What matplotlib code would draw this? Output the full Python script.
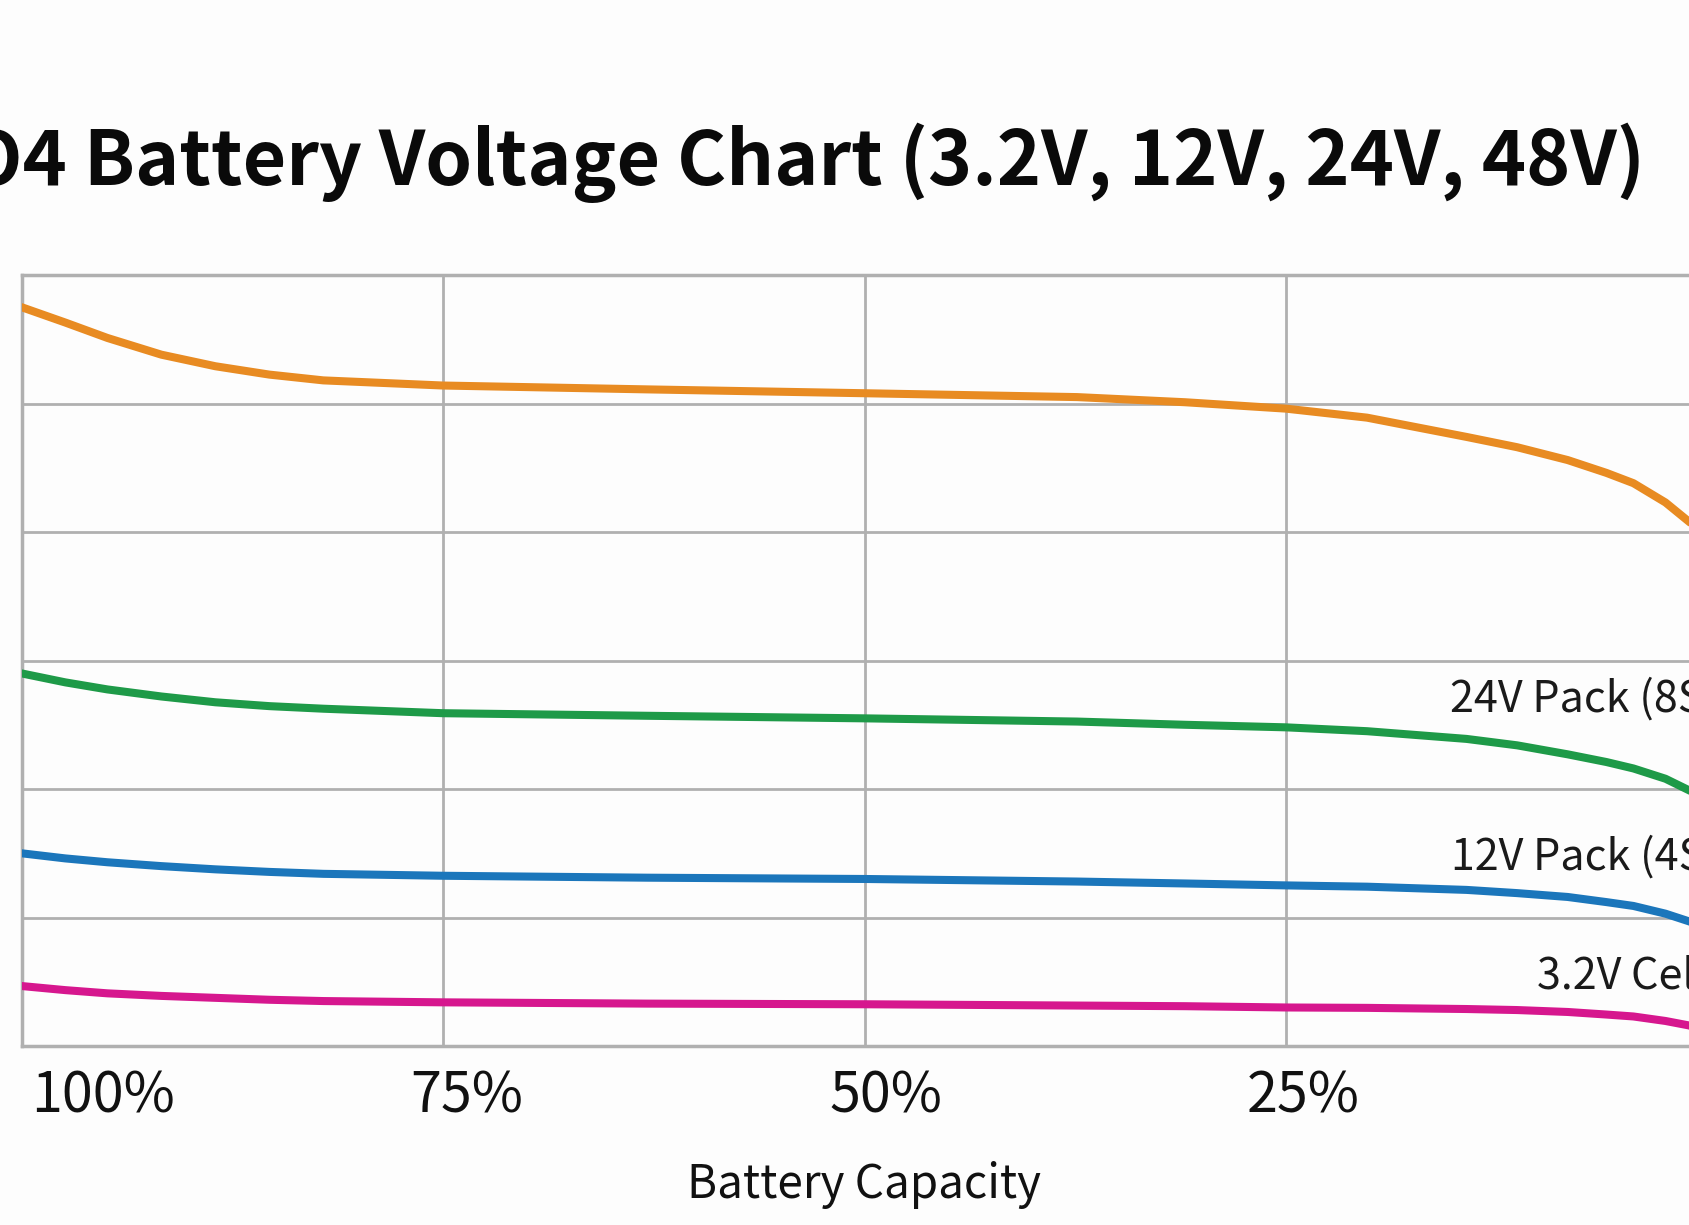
import numpy as np
import matplotlib.pyplot as plt
from matplotlib import transforms

plt.rcParams['font.family'] = ['Noto Sans CJK JP', 'DejaVu Sans']

# remaining capacity (%) at which the curves were read
cap_pct = [100, 97.4, 94.9, 91.7, 88.5, 85.3, 82.1, 75, 62.9, 50, 37.4, 31, 25,
           20.2, 14.3, 11.3, 8.3, 6.0, 4.4, 2.5, 1.1, 0]

# voltage of each pack
v_48 = [57.5, 56.3, 55.1, 53.8, 52.9, 52.25, 51.8, 51.4, 51.1, 50.8, 50.5, 50.1, 49.6,
        48.9, 47.4, 46.6, 45.6, 44.6, 43.8, 42.3, 40.8, 39.6]
v_24 = [29.0, 28.3, 27.75, 27.2, 26.75, 26.45, 26.25, 25.9, 25.7, 25.5, 25.25, 25.0, 24.8,
        24.5, 23.9, 23.4, 22.7, 22.1, 21.6, 20.8, 19.9, 19.1]
v_12 = [15.0, 14.6, 14.3, 14.0, 13.75, 13.55, 13.4, 13.25, 13.1, 13.0, 12.8, 12.65, 12.5,
        12.4, 12.15, 11.9, 11.6, 11.2, 10.9, 10.3, 9.7, 9.2]
v_3 = [4.67, 4.35, 4.1, 3.9, 3.75, 3.6, 3.5, 3.4, 3.3, 3.25, 3.15, 3.1, 3.0,
       2.97, 2.88, 2.8, 2.65, 2.45, 2.3, 1.95, 1.6, 1.1]

series = [v_48, v_24, v_12, v_3]
colors = ['#e88b22', '#1e9a48', '#1b76bb', '#d6178e']

labels = ['24V Pack (8S)', '12V Pack (4S)', '3.2V Cell']
label_x = [15.3, 15.2, 10.1]
label_y = [27.0, 14.7, 5.4]

x_ticks = [100, 75, 50, 25]
x_ticklabels = ['100%', '75%', '50%', '25%']
tick_shift = [76, 22, 20, 16]   # px the printed labels sit right of their grid line

fig = plt.figure(figsize=(16.89, 12.25), dpi=100)
fig.patch.set_facecolor('#fdfdfd')
ax = fig.add_axes([0.01273, 0.1461, 0.9983, 0.6294])
ax.set_facecolor('#fdfdfd')

for v, c in zip(series, colors):
    ax.plot(cap_pct, v, color=c, lw=5.8, solid_capstyle='round',
            solid_joinstyle='round', zorder=3)

ax.set_xlim(100, 0)
ax.set_ylim(0, 60)
ax.set_xticks([100, 75, 50, 25, 0])
ax.set_yticks(np.arange(0, 61, 10))
ax.grid(True, color='#b0b0b0', lw=2)
ax.tick_params(length=0, labelbottom=False, labelleft=False)
for s in ax.spines.values():
    s.set_color('#b0b0b0')
    s.set_linewidth(2.5)

for t, y, lab in zip(label_x, label_y, labels):
    ax.text(t, y, lab, fontsize=31, color='#1a1a1a', ha='left', va='center')

trans = transforms.blended_transform_factory(ax.transData, fig.transFigure)
for x, lab, dx in zip(x_ticks, x_ticklabels, tick_shift):
    off = transforms.offset_copy(trans, fig=fig, x=dx * 1.0772, y=0, units='dots')
    ax.text(x, 1 - 1097 / 1225, lab, fontsize=40, color='#111111', ha='center',
            va='center', transform=off)

fig.text(864 / 1689, 1 - 1185 / 1225, 'Battery Capacity', fontsize=33,
         color='#111111', ha='center', va='center')

fig.text(1645 / 1689, 1 - 185 / 1225, 'LiFePO4 Battery Voltage Chart (3.2V, 12V, 24V, 48V)',
         fontsize=54, fontweight='bold', color='#0a0a0a', ha='right', va='baseline')

fig.savefig('out.png', dpi=100, facecolor=fig.get_facecolor())
